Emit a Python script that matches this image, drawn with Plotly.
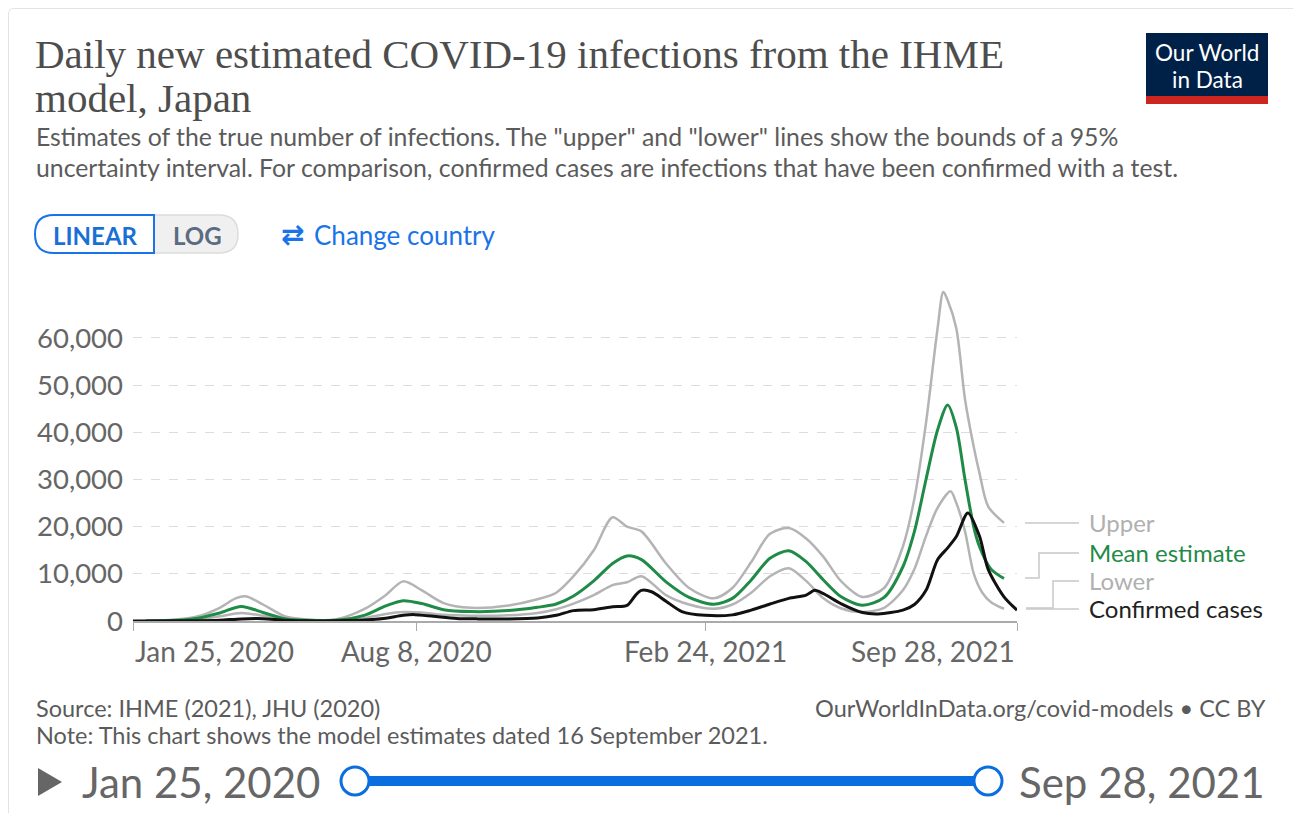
import plotly.graph_objects as go

# ---------------- DATA ----------------
mean_dates = ["2020-02-03", "2020-02-24", "2020-03-10", "2020-03-25", "2020-04-09", "2020-04-24",
              "2020-05-09", "2020-05-24", "2020-06-13", "2020-07-03", "2020-07-18", "2020-07-30",
              "2020-08-12", "2020-08-27", "2020-09-15", "2020-10-11", "2020-10-31", "2020-11-13",
              "2020-11-25", "2020-12-09", "2020-12-22", "2021-01-01", "2021-01-11", "2021-01-28",
              "2021-02-13", "2021-03-02", "2021-03-15", "2021-03-28", "2021-04-10", "2021-04-23",
              "2021-05-05", "2021-05-17", "2021-05-29", "2021-06-13", "2021-06-28", "2021-07-11",
              "2021-07-19", "2021-07-27", "2021-08-04", "2021-08-11", "2021-08-17", "2021-08-23",
              "2021-08-29", "2021-09-02", "2021-09-10", "2021-09-19"]
mean_values = [0, 150, 600, 1700, 3100, 1800,
               500, 150, 150, 1200, 3200, 4300,
               3700, 2400, 2000, 2200, 2900, 3600,
               5300, 8500, 12200, 13800, 13000, 8300,
               5000, 3550, 4800, 8700, 13300, 14900,
               12600, 8700, 5200, 3350, 5000, 11500,
               19000, 30000, 40500, 45800, 41000, 30000,
               20000, 15800, 11000, 9000]

upper_dates = ["2020-02-03", "2020-02-24", "2020-03-10", "2020-03-25", "2020-04-05", "2020-04-12",
               "2020-04-24", "2020-05-09", "2020-05-24", "2020-06-13", "2020-07-03", "2020-07-18",
               "2020-07-30", "2020-08-12", "2020-08-27", "2020-09-15", "2020-10-11", "2020-10-31",
               "2020-11-13", "2020-11-25", "2020-12-09", "2020-12-22", "2021-01-01", "2021-01-11",
               "2021-01-28", "2021-02-13", "2021-03-02", "2021-03-15", "2021-03-28", "2021-04-10",
               "2021-04-23", "2021-05-05", "2021-05-17", "2021-05-29", "2021-06-13", "2021-06-28",
               "2021-07-11", "2021-07-19", "2021-07-27", "2021-08-04", "2021-08-08", "2021-08-11",
               "2021-08-17", "2021-08-23", "2021-08-29", "2021-09-02", "2021-09-08", "2021-09-19"]
upper_values = [0, 300, 1000, 2800, 4800, 5250,
                3500, 1000, 300, 300, 2500, 5500,
                8400, 6500, 3800, 2800, 3300, 4600,
                6000, 9500, 15000, 22000, 20000, 19000,
                12200, 7000, 4800, 7000, 12500, 18500,
                19700, 17500, 13600, 8500, 5100, 7000,
                15800, 26000, 42000, 62000, 69800, 68000,
                62000, 47000, 37000, 31400, 24300, 20800]

lower_dates = ["2020-02-03", "2020-03-10", "2020-03-25", "2020-04-09", "2020-04-24", "2020-05-09",
               "2020-05-24", "2020-06-13", "2020-07-03", "2020-07-18", "2020-07-30", "2020-08-12",
               "2020-08-27", "2020-09-15", "2020-10-11", "2020-10-31", "2020-11-13", "2020-11-25",
               "2020-12-09", "2020-12-22", "2021-01-01", "2021-01-11", "2021-01-28", "2021-02-13",
               "2021-03-02", "2021-03-15", "2021-03-28", "2021-04-10", "2021-04-23", "2021-05-05",
               "2021-05-17", "2021-05-29", "2021-06-13", "2021-06-28", "2021-07-11", "2021-07-19",
               "2021-07-27", "2021-08-04", "2021-08-13", "2021-08-17", "2021-08-23", "2021-08-29",
               "2021-09-04", "2021-09-10", "2021-09-19"]
lower_values = [0, 300, 1000, 1700, 1100, 300,
                100, 100, 600, 1500, 1900, 1800,
                1300, 1100, 1200, 1700, 2500, 3700,
                5500, 7600, 8200, 9500, 5500, 3500,
                2600, 3500, 6000, 9500, 11200, 8500,
                4800, 2700, 1900, 2800, 6500, 11000,
                18000, 24000, 27500, 25000, 19000, 10100,
                6000, 4000, 2600]

confirmed_dates = ["2020-01-25", "2020-03-10", "2020-03-25", "2020-04-09", "2020-04-24", "2020-05-09",
                   "2020-05-24", "2020-06-13", "2020-07-03", "2020-07-18", "2020-07-30", "2020-08-07",
                   "2020-08-20", "2020-09-05", "2020-09-20", "2020-10-11", "2020-10-31", "2020-11-13",
                   "2020-11-25", "2020-12-09", "2020-12-22", "2021-01-01", "2021-01-07", "2021-01-11",
                   "2021-01-18", "2021-01-28", "2021-02-08", "2021-02-24", "2021-03-15", "2021-03-28",
                   "2021-04-10", "2021-04-23", "2021-05-05", "2021-05-11", "2021-05-17", "2021-05-29",
                   "2021-06-13", "2021-06-24", "2021-07-11", "2021-07-19", "2021-07-27", "2021-08-04",
                   "2021-08-11", "2021-08-17", "2021-08-25", "2021-09-02", "2021-09-08", "2021-09-19",
                   "2021-09-28"]
confirmed_values = [0, 50, 150, 450, 500, 150,
                    30, 50, 200, 600, 1200, 1350,
                    1000, 550, 450, 450, 650, 1200,
                    2200, 2400, 3000, 3300, 5500, 6500,
                    6200, 4200, 2000, 1200, 1300, 2300,
                    3600, 4800, 5500, 6500, 5800, 3700,
                    1800, 1500, 2300, 3500, 6500, 13000,
                    15500, 17900, 22900, 18000, 11000, 5100,
                    2300]

y_tick_values = [0, 10000, 20000, 30000, 40000, 50000, 60000]
y_tick_labels = ["0", "10,000", "20,000", "30,000", "40,000", "50,000", "60,000"]
x_tick_dates = ["2020-01-25", "2020-08-08", "2021-02-24", "2021-09-28"]
x_tick_labels = ["Jan 25, 2020", "Aug 8, 2020", "Feb 24, 2021", "Sep 28, 2021"]
x_tick_anchor = ["left", "center", "center", "right"]

series_names = ["Upper", "Mean estimate", "Lower", "Confirmed cases"]
series_colors = ["#b4b4b4", "#1f8b47", "#b4b4b4", "#111111"]

title_lines = ["Daily new estimated COVID-19 infections from the IHME", "model, Japan"]
subtitle_lines = ['Estimates of the true number of infections. The "upper" and "lower" lines show the bounds of a 95%',
                  'uncertainty interval. For comparison, confirmed cases are infections that have been confirmed with a test.']

# ---------------- LAYOUT HELPERS ----------------
# the page body has an 8px margin, so the figure is drawn 8px in from the window edge
OFF = 8
W, H = 1301 - 2 * OFF, 821 - 2 * OFF
PLOT_L, PLOT_R, PLOT_B, PLOT_T = 133, 1017, 621, 290.8
Y_MAX = 70000


def px(x):
    return (x - OFF) / W


def py(y):
    return 1 - (y - OFF) / H


def rrect(x0, y0, x1, y1, rl, rr):
    pts = [
        f"M{px(x0 + rl)},{py(y0)}", f"L{px(x1 - rr)},{py(y0)}",
        f"Q{px(x1)},{py(y0)} {px(x1)},{py(y0 + rr)}", f"L{px(x1)},{py(y1 - rr)}",
        f"Q{px(x1)},{py(y1)} {px(x1 - rr)},{py(y1)}", f"L{px(x0 + rl)},{py(y1)}",
        f"Q{px(x0)},{py(y1)} {px(x0)},{py(y1 - rl)}", f"L{px(x0)},{py(y0 + rl)}",
        f"Q{px(x0)},{py(y0)} {px(x0 + rl)},{py(y0)}", "Z",
    ]
    return " ".join(pts)


def poly(points, close=False):
    s = "M" + " L".join(f"{px(x)},{py(y)}" for x, y in points)
    return s + (" Z" if close else "")


FONT = "Lato, 'Noto Sans', sans-serif"

fig = go.Figure()

for name, dates, vals, color, width in [
    ("Upper", upper_dates, upper_values, series_colors[0], 2.5),
    ("Lower", lower_dates, lower_values, series_colors[2], 2.5),
    ("Mean estimate", mean_dates, mean_values, series_colors[1], 3),
    ("Confirmed cases", confirmed_dates, confirmed_values, series_colors[3], 3),
]:
    fig.add_trace(go.Scatter(x=dates, y=vals, mode="lines", name=name,
                             line=dict(color=color, width=width, shape="spline", smoothing=0.8),
                             hoverinfo="skip", showlegend=False))

annotations = []
shapes = []


def text(t, x, y, size, color, anchor="left", family=FONT, xref="paper"):
    annotations.append(dict(text=t, x=x if xref != "paper" else px(x), y=py(y), xref=xref, yref="paper",
                            xanchor=anchor, yanchor="middle", showarrow=False,
                            font=dict(family=family, size=size, color=color)))


# card frame
shapes.append(dict(type="path", xref="paper", yref="paper",
                   path=poly([(8.5, 821), (8.5, 14)]) + f" Q{px(8.5)},{py(8.5)} {px(14)},{py(8.5)} L{px(1293)},{py(8.5)}",
                   line=dict(color="#e3e3e3", width=1)))
shapes.append(dict(type="line", xref="paper", yref="paper", x0=px(250), x1=px(1293), y0=py(815), y1=py(815),
                   line=dict(color="#dddddd", width=1)))

# title
for i, line in enumerate(title_lines):
    text(line, 33, 54 + 44 * i, 41, "#4d4d4d", family="'Liberation Serif', serif")
# subtitle
for i, line in enumerate(subtitle_lines):
    text(line, 34, 136 + 31 * i, 24.8, "#5b5b5b")

# logo
shapes.append(dict(type="rect", xref="paper", yref="paper", x0=px(1146), x1=px(1268), y0=py(33), y1=py(104),
                   fillcolor="#002147", line=dict(width=0), layer="above"))
shapes.append(dict(type="rect", xref="paper", yref="paper", x0=px(1146), x1=px(1268), y0=py(96), y1=py(104),
                   fillcolor="#ce261e", line=dict(width=0), layer="above"))
text("Our World", 1207, 52.5, 22.5, "white", anchor="center")
text("in Data", 1207, 79.5, 22.5, "white", anchor="center")

# LINEAR / LOG buttons
shapes.append(dict(type="path", xref="paper", yref="paper", path=rrect(35, 215, 238, 253, 19, 19),
                   fillcolor="#f0f0f0", line=dict(color="#dcdcdc", width=1.5)))
shapes.append(dict(type="path", xref="paper", yref="paper", path=rrect(35, 215, 154, 253, 19, 0),
                   fillcolor="white", line=dict(color="#1a73e8", width=2)))
text("<b>LINEAR</b>", 95, 235, 24, "#1a6fd6", anchor="center")
text("<b>LOG</b>", 197, 235, 24, "#5b6b80", anchor="center")
text("<b>⇄</b>", 279, 234, 28, "#1a73e8", family="'DejaVu Sans', sans-serif")
text("Change country", 312, 235, 26, "#1a73e8")

# x tick labels (placed on the date axis)
for d, lab, anc in zip(x_tick_dates, x_tick_labels, x_tick_anchor):
    text(lab, d, 651, 28, "#666666", anchor=anc, xref="x")

# legend labels and connectors
legend_y = [522, 552, 580, 608]
for name, color, yy in zip(series_names, ["#b0b0b0", "#1f8b47", "#b0b0b0", "#222222"], legend_y):
    text(name, 1087, yy, 24, color)
conn = [
    [(1025, 523), (1079, 523)],
    [(1025, 578), (1039, 578), (1039, 553), (1079, 553)],
    [(1026, 608), (1053, 608), (1053, 581), (1079, 581)],
    [(1026, 609), (1079, 609)],
]
for c in conn:
    shapes.append(dict(type="path", xref="paper", yref="paper", path=poly(c),
                       line=dict(color="#c8c8c8", width=1.5)))

# footer
text("Source: IHME (2021), JHU (2020)", 34, 708, 23.5, "#5b5b5b")
text("Note: This chart shows the model estimates dated 16 September 2021.", 34, 735, 23.5, "#5b5b5b")
text("OurWorldInData.org/covid-models • CC BY", 1268, 708, 23.5, "#5b5b5b", anchor="right")

# timeline
shapes.append(dict(type="path", xref="paper", yref="paper", path=poly([(38, 768), (62, 782), (38, 796)], True),
                   fillcolor="#666666", line=dict(width=0)))
text(x_tick_labels[0], 80, 782, 42, "#666666")
text(x_tick_labels[-1], 1267, 782, 42, "#666666", anchor="right")
shapes.append(dict(type="line", xref="paper", yref="paper", x0=px(355), x1=px(988), y0=py(781), y1=py(781),
                   line=dict(color="#0a6ee0", width=10)))
for cx in (355, 988):
    shapes.append(dict(type="circle", xref="paper", yref="paper", x0=px(cx - 14), x1=px(cx + 14),
                       y0=py(781 - 14), y1=py(781 + 14), fillcolor="white",
                       line=dict(color="#0a6ee0", width=3)))

fig.update_layout(
    width=W, height=H, autosize=False,
    margin=dict(l=0, r=0, t=0, b=0),
    paper_bgcolor="white", plot_bgcolor="white",
    annotations=annotations, shapes=shapes,
    xaxis=dict(domain=[px(PLOT_L), px(PLOT_R)], type="date", range=["2020-01-25", "2021-09-28"],
               tickvals=x_tick_dates, showticklabels=False, ticks="outside", ticklen=8,
               tickcolor="#aaaaaa", showgrid=False, showline=True, linecolor="#aaaaaa", linewidth=1.5,
               zeroline=False, fixedrange=True, automargin=False),
    yaxis=dict(domain=[py(PLOT_B), py(PLOT_T)], range=[0, Y_MAX], tickvals=y_tick_values,
               ticktext=y_tick_labels, showgrid=True, gridcolor="#dddddd", griddash="dash", gridwidth=1.2,
               zeroline=False, showline=False, ticks="", ticklabelstandoff=9, automargin=False,
               tickfont=dict(family=FONT, size=27.5, color="#666666"), fixedrange=True),
    font=dict(family=FONT),
)

fig.write_html("out.html")
